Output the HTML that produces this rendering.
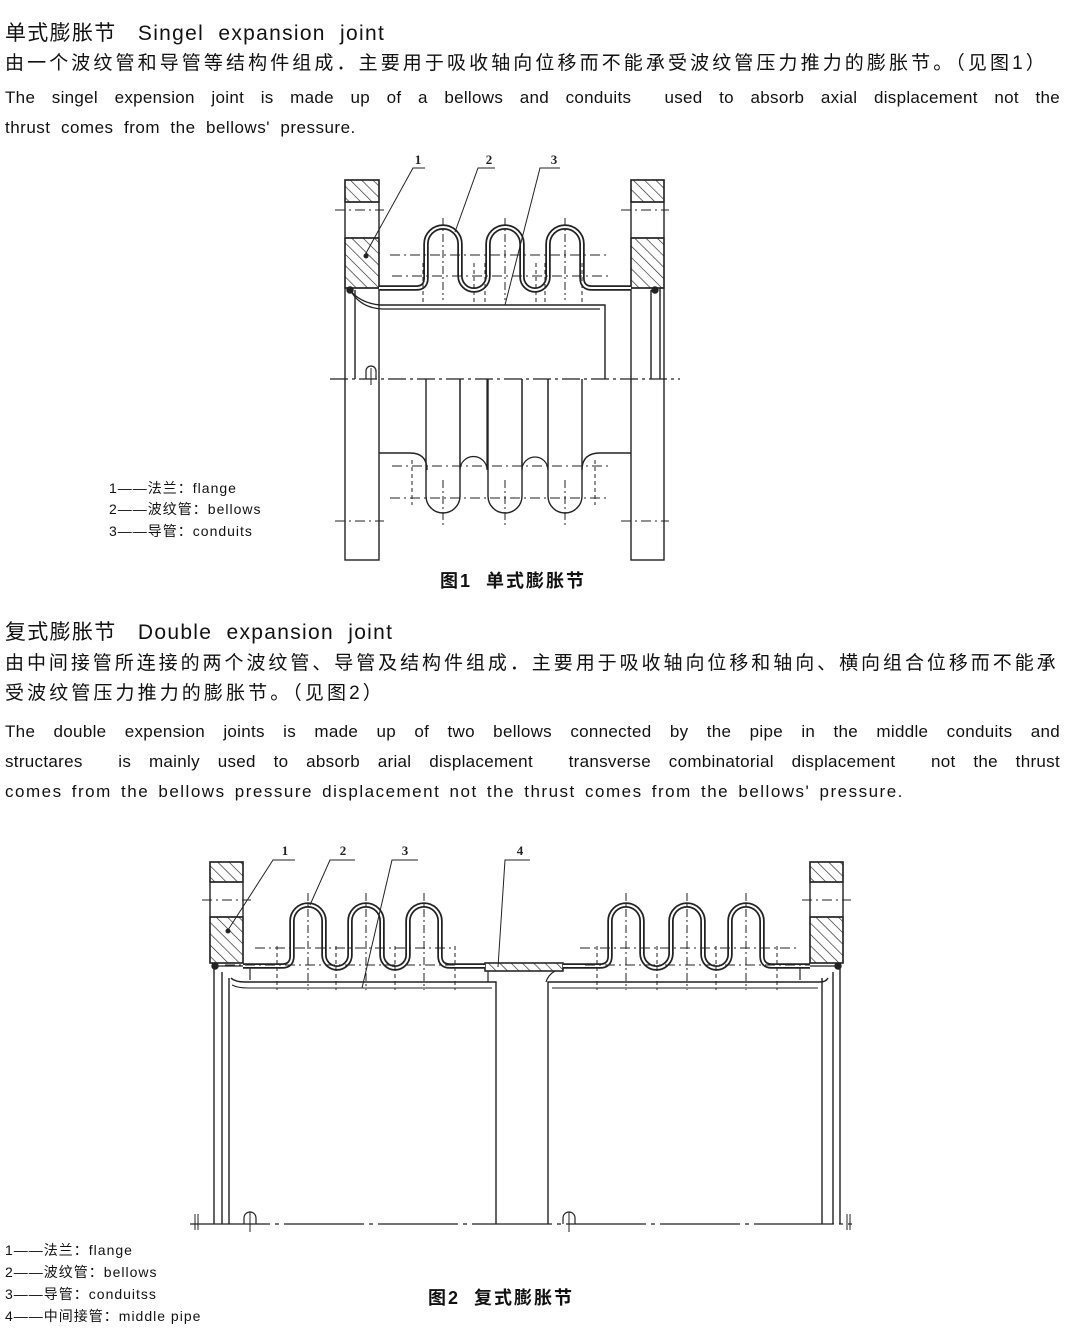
<!DOCTYPE html>
<html><head><meta charset="utf-8"><style>
html,body{margin:0;padding:0;background:#fff;}
body{width:1065px;height:1335px;position:relative;overflow:hidden;color:#111;font-family:"Liberation Sans","Noto Sans CJK SC",sans-serif;}
.t{position:absolute;white-space:nowrap;}
.h{font-size:21px;letter-spacing:1.3px;}
.c{font-size:19px;left:5px;letter-spacing:3.1px;}
.e{font-size:17px;left:5px;width:1055px;text-align:justify;text-align-last:justify;letter-spacing:0.3px;}
.l{font-size:14px;letter-spacing:1px;}
.cap{font-size:18px;letter-spacing:2px;font-weight:bold;}
svg{position:absolute;left:0;top:0;}
</style></head><body>
<div class="t h" style="left:5px;top:17px;">单式膨胀节&nbsp;&nbsp;&nbsp;Singel&nbsp; expansion&nbsp; joint</div>
<div class="t c" style="top:48px;">由一个波纹管和导管等结构件组成．主要用于吸收轴向位移而不能承受波纹管压力推力的膨胀节。（见图1）</div>
<div class="t e" style="top:88px;">The singel expension joint is made up of a bellows and conduits &nbsp;used to absorb axial displacement not the</div>
<div class="t e" style="top:118px;text-align-last:left;width:auto;letter-spacing:0.5px;">thrust&nbsp; comes&nbsp; from&nbsp; the&nbsp; bellows'&nbsp; pressure.</div>
<div class="t l" style="left:109px;top:478px;">1——法兰：flange</div>
<div class="t l" style="left:109px;top:499px;">2——波纹管：bellows</div>
<div class="t l" style="left:109px;top:521px;">3——导管：conduits</div>
<div class="t cap" style="left:440px;top:567px;">图1&nbsp; 单式膨胀节</div>

<div class="t h" style="left:5px;top:616px;">复式膨胀节&nbsp;&nbsp;&nbsp;Double&nbsp; expansion&nbsp; joint</div>
<div class="t c" style="top:648px;letter-spacing:2.95px;">由中间接管所连接的两个波纹管、导管及结构件组成．主要用于吸收轴向位移和轴向、横向组合位移而不能承</div>
<div class="t c" style="top:678px;">受波纹管压力推力的膨胀节。（见图2）</div>
<div class="t e" style="top:722px;">The double expension joints is made up of two bellows connected by the pipe in the middle conduits and</div>
<div class="t e" style="top:752px;">structares&nbsp; is mainly used to absorb arial displacement &nbsp;transverse combinatorial displacement &nbsp;not the thrust</div>
<div class="t e" style="top:782px;text-align-last:left;width:auto;letter-spacing:1.5px;word-spacing:3px;">comes from the bellows pressure displacement not the thrust comes from the bellows' pressure.</div>
<div class="t l" style="left:5px;top:1240px;">1——法兰：flange</div>
<div class="t l" style="left:5px;top:1262px;">2——波纹管：bellows</div>
<div class="t l" style="left:5px;top:1284px;">3——导管：conduitss</div>
<div class="t l" style="left:5px;top:1306px;">4——中间接管：middle pipe</div>
<div class="t cap" style="left:428px;top:1284px;">图2&nbsp; 复式膨胀节</div>

<svg width="1065" height="1335" viewBox="0 0 1065 1335" id="sv">
<defs>
<pattern id="hat" width="8" height="8" patternUnits="userSpaceOnUse" patternTransform="rotate(-45)">
<line x1="0" y1="0" x2="0" y2="8" stroke="#222" stroke-width="1.3"/></pattern>
</defs>
<g id="g" fill="none" stroke="#222" stroke-width="1.4"></g>
</svg>
<script>
var g=document.getElementById('g'),s='';
function P(d,w,c,extra){s+='<path d="'+d+'" stroke-width="'+(w||1.4)+'" stroke="'+(c||'#222')+'" '+(extra||'')+'/>';}
function L(x1,y1,x2,y2,w,dash){s+='<line x1="'+x1+'" y1="'+y1+'" x2="'+x2+'" y2="'+y2+'" stroke-width="'+(w||1.4)+'"'+(dash?' stroke-dasharray="'+dash+'"':'')+'/>';}
function R(x,y,w,h,f){s+='<rect x="'+x+'" y="'+y+'" width="'+w+'" height="'+h+'"'+(f?' fill="'+f+'"':'')+'/>';}
function T(x,y,t){s+='<text x="'+x+'" y="'+y+'" font-family="Liberation Serif,serif" font-weight="bold" font-size="13" fill="#222" stroke="none" text-anchor="middle">'+t+'</text>';}
function bel(cs,r,top,base,x0,x1){
 var ac=top+r,d='M'+x0+' '+base+' L'+(cs[0]-r-10)+' '+base+' Q'+(cs[0]-r)+' '+base+' '+(cs[0]-r)+' '+(base-10);
 for(var i=0;i<cs.length;i++){var c=cs[i];
  d+=' L'+(c-r)+' '+ac+' A'+r+' '+r+' 0 0 1 '+(c+r)+' '+ac;
  if(i<cs.length-1){var n=cs[i+1],rr=(n-r-(c+r))/2;var tc=base-rr+2;
   d+=' L'+(c+r)+' '+tc+' A'+rr+' '+rr+' 0 0 0 '+(n-r)+' '+tc;}
  else d+=' L'+(c+r)+' '+(base-10)+' Q'+(c+r)+' '+base+' '+(c+r+10)+' '+base+' L'+x1+' '+base;}
 P(d,5.5,'#222');P(d,2,'#fff');
}
[[345,379],[631,664]].forEach(function(f){var x=f[0],w=f[1]-f[0];
 R(x,180,w,22,'url(#hat)');R(x,238,w,50,'url(#hat)');R(x,180,w,380);L(x,202,x+w,202);L(x,238,x+w,238);L(x,288,x+w,288);
 L(x-10,210,x+w+5,210,1,'10 4 2 4');L(x-10,521,x+w+5,521,1,'10 4 2 4');});
L(355,290,355,379);L(651,290,651,379);L(660,288,660,379);
P('M350 290 Q360 303 380 305 L605 305 L605 379');P('M352 293 Q362 308 382 309 L600 309',1.2);
L(330,379,680,379,1.2,'18 4 3 4');
P('M366 379 L366 371 A5 5 0 0 1 376 371 L376 379',1.2);L(371,368,371,385,1);
bel([443,505,565],17,227,288,379,631);
[443,505,565].forEach(function(c){L(c,218,c,300,1,'8 3 2 3');L(c-20,263,c-20,303,1,'4 3');L(c+17+(c<565?14:0),263,c+17+(c<565?14:0),303,1,'4 3');});
L(392,276,612,276,1,'10 4 2 4');L(390,255,610,255,1,'10 4 2 4');
[443,505,565].forEach(function(c){P('M'+(c-17)+' 379 L'+(c-17)+' 496 A17 17 0 0 0 '+(c+17)+' 496 L'+(c+17)+' 379');L(c,480,c,525,1,'8 3 2 3');});
P('M460 379 L460 470 A13.5 13.5 0 0 1 487 470 L487 379',1.2);
P('M522 379 L522 470 A13 13 0 0 1 548 470 L548 379',1.2);
P('M379 453 L410 453 Q427 453 427 470');P('M631 453 L600 453 Q582 453 582 470');
L(392,466,612,466,1,'10 4 2 4');L(390,498,610,498,1,'10 4 2 4');
[412,595].forEach(function(x){L(x,460,x,505,1,'4 3');});
P('M365 255 L413 168 L425 168',1);T(418,164,'1');
P('M455 232 L478 168 L495 168',1);T(489,164,'2');
P('M505 305 L540 168 L560 168',1);T(554,164,'3');
s+='<circle cx="366" cy="256" r="1.8" fill="#222"/><circle cx="350" cy="290" r="3" fill="#222"/><circle cx="655" cy="290" r="3" fill="#222"/>';

[[210,243],[810,843]].forEach(function(f){var x=f[0],w=f[1]-f[0];
 R(x,862,w,20,'url(#hat)');R(x,917,w,46,'url(#hat)');R(x,862,w,101);L(x,882,x+w,882);L(x,917,x+w,917);
 L(x-8,900,x+w+8,900,1,'10 4 2 4');});
L(214,966,214,1224);L(222,972,222,1224);L(229,978,229,1224);
L(822,978,822,1224);L(833,972,833,1224);L(840,966,840,1224);
P('M231 978 Q235 982 245 982 L496 982 L496 1224');P('M232 985 Q238 988 248 988 L492 988',1.1);
P('M548 1224 L548 982 L820 982 Q826 982 828 978');P('M552 988 L818 988',1.1);
P('M212 966 L250 966 L250 980',1.2);P('M840 966 L800 966 L800 980',1.2);
R(485,963,78,8,'url(#hat)');P('M485 963 L563 963 L563 971 L485 971 Z',1.2);
P('M488 971 L488 982',1.2);P('M555 971 Q548 975 546 982',1.2);
bel([308,366,424],16,905,966,243,485);
bel([626,687,746],16,905,966,563,810);
[308,366,424,626,687,746].forEach(function(c){L(c,893,c,990,1,'8 3 2 3');});
[277,336,395,455,597,657,716,777].forEach(function(x){L(x,946,x,990,1,'4 3');});
L(255,948,455,948,1,'10 4 2 4');L(580,948,800,948,1,'10 4 2 4');
L(225,965,455,965,1,'10 4 2 4');L(585,965,810,965,1,'10 4 2 4');
L(190,1224,852,1224,1.2,'80 5 4 5');
L(195,1214,195,1230,1);L(198,1214,198,1230,1);L(847,1214,847,1230,1);L(850,1214,850,1230,1);
P('M244 1224 L244 1218 A6 6 0 0 1 256 1218 L256 1224',1.2);L(250,1212,250,1232,1);
P('M563 1224 L563 1218 A6 6 0 0 1 575 1218 L575 1224',1.2);L(569,1212,569,1232,1);
P('M228 930 L273 860 L295 860',1);T(285,855,'1');
P('M310 905 L330 860 L355 860',1);T(343,855,'2');
P('M362 988 L392 860 L418 860',1);T(405,855,'3');
P('M498 967 L505 860 L530 860',1);T(520,855,'4');
s+='<circle cx="228" cy="931" r="1.8" fill="#222"/><circle cx="215" cy="966" r="3" fill="#222"/><circle cx="838" cy="966" r="3" fill="#222"/>';
g.innerHTML=s;
</script>
</body></html>
